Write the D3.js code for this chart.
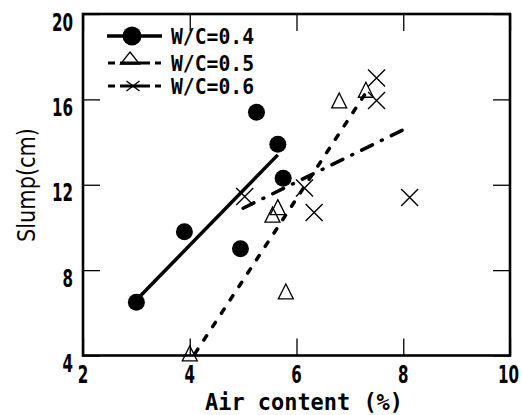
<!DOCTYPE html>
<html>
<head>
<meta charset="utf-8">
<script src="https://cdn.jsdelivr.net/npm/d3@7"></script>
<style>
  body { margin: 0; background: #fff; }
  text { font-family: "DejaVu Sans Condensed", "Liberation Sans Narrow", "DejaVu Sans", sans-serif; fill: #000; }
  .mono { font-family: "DejaVu Sans Mono", "Liberation Mono", monospace; }
</style>
</head>
<body>
<svg id="chart" width="522" height="415"></svg>
<script>
// data
const xTicks = [2, 4, 6, 8, 10];
const yTicks = [4, 8, 12, 16, 20];

const wc04X = [3.0, 3.9, 4.95, 5.25, 5.65, 5.75];
const wc04Y = [6.5, 9.8, 9.0, 15.4, 13.9, 12.3];
const wc05X = [4.0, 5.55, 5.65, 5.8, 6.8, 7.3];
const wc05Y = [4.1, 10.6, 10.95, 7.0, 15.95, 16.45];
const wc06X = [5.03, 6.15, 6.33, 7.5, 7.5, 8.12];
const wc06Y = [11.45, 11.85, 10.7, 17.0, 15.95, 11.4];

// fitted lines (end points)
const fit04 = [[3.0, 6.6], [5.65, 13.4]];
const fit05 = [[4.1, 4.1], [7.35, 16.5]];
const fit06 = [[5.0, 10.9], [8.1, 14.7]];

const seriesNames = ["W/C=0.4", "W/C=0.5", "W/C=0.6"];

const svg = d3.select("#chart");
const x = d3.scaleLinear().domain([2, 10]).range([83, 510]);
const y = d3.scaleLinear().domain([4, 20]).range([355.5, 14]);

// inward ticks on all four sides
const tick = 17;
svg.append("g").attr("transform", `translate(0,${y(4)})`)
  .call(d3.axisBottom(x).tickValues(xTicks).tickSizeInner(-tick).tickSizeOuter(0).tickFormat(""));
svg.append("g").attr("transform", `translate(0,${y(20)})`)
  .call(d3.axisTop(x).tickValues(xTicks).tickSizeInner(-tick).tickSizeOuter(0).tickFormat(""));
svg.append("g").attr("transform", `translate(${x(2)},0)`)
  .call(d3.axisLeft(y).tickValues(yTicks).tickSizeInner(-tick).tickSizeOuter(0).tickFormat(""));
svg.append("g").attr("transform", `translate(${x(10)},0)`)
  .call(d3.axisRight(y).tickValues(yTicks).tickSizeInner(-tick).tickSizeOuter(0).tickFormat(""));
svg.selectAll(".domain").remove();
svg.selectAll(".tick line").attr("stroke", "#000").attr("stroke-width", 1.3);

// frame
svg.append("rect")
  .attr("x", x(2)).attr("y", y(20))
  .attr("width", x(10) - x(2)).attr("height", y(4) - y(20))
  .attr("fill", "none").attr("stroke", "#000").attr("stroke-width", 2.6);

// tick labels
svg.selectAll(".xl").data(xTicks).enter().append("text")
  .attr("x", d => d === 10 ? 519 : x(d)).attr("y", 383)
  .attr("text-anchor", d => d === 10 ? "end" : "middle")
  .attr("font-size", 24).attr("font-weight", "bold")
  .attr("textLength", d => String(d).length * 10.5)
  .attr("lengthAdjust", "spacingAndGlyphs")
  .text(d => d);
svg.selectAll(".yl").data(yTicks).enter().append("text")
  .attr("x", 73).attr("y", d => y(d) + 16.5)
  .attr("text-anchor", "end")
  .attr("font-size", 24).attr("font-weight", "bold")
  .attr("textLength", d => String(d).length * 10.5)
  .attr("lengthAdjust", "spacingAndGlyphs")
  .text(d => d);

// axis titles
svg.append("text").attr("class", "mono")
  .attr("x", 205).attr("y", 410)
  .attr("font-size", 23).attr("font-weight", "bold")
  .attr("textLength", 198).attr("lengthAdjust", "spacingAndGlyphs")
  .text("Air content (%)");
svg.append("text")
  .attr("transform", "translate(35,242) rotate(-90)")
  .attr("font-size", 25)
  .attr("textLength", 114).attr("lengthAdjust", "spacingAndGlyphs")
  .text("Slump(cm)");

// fitted lines
const line = d3.line().x(d => x(d[0])).y(d => y(d[1]));
svg.append("path").attr("d", line(fit04))
  .attr("fill", "none").attr("stroke", "#000").attr("stroke-width", 3.5);
svg.append("path").attr("d", line(fit05))
  .attr("fill", "none").attr("stroke", "#000").attr("stroke-width", 3.5)
  .attr("stroke-linecap", "round").attr("stroke-dasharray", "5,11");
svg.append("path").attr("d", line(fit06))
  .attr("fill", "none").attr("stroke", "#000").attr("stroke-width", 3.5)
  .attr("stroke-linecap", "round").attr("stroke-dasharray", "12,10,1,10");

// markers
function triangle(g, cx, cy, w, h) {
  g.append("path")
    .attr("d", `M${cx},${cy - h / 2}L${cx + w / 2},${cy + h / 2}L${cx - w / 2},${cy + h / 2}Z`)
    .attr("fill", "#fff").attr("fill-opacity", 0)
    .attr("stroke", "#000").attr("stroke-width", 1.3);
}
function cross(g, cx, cy, hw, hh) {
  g.append("path")
    .attr("d", `M${cx - hw},${cy - hh}L${cx + hw},${cy + hh}M${cx - hw},${cy + hh}L${cx + hw},${cy - hh}`)
    .attr("stroke", "#000").attr("stroke-width", 1.4).attr("fill", "none");
}

const pts = svg.append("g");
d3.range(wc05X.length).forEach(i => triangle(pts, x(wc05X[i]), y(wc05Y[i]), 15, 15));
d3.range(wc06X.length).forEach(i => cross(pts, x(wc06X[i]), y(wc06Y[i]), 8.5, 8.5));
pts.selectAll("circle").data(d3.range(wc04X.length)).enter().append("circle")
  .attr("cx", i => x(wc04X[i])).attr("cy", i => y(wc04Y[i]))
  .attr("r", 8.5).attr("fill", "#000");

// legend
const lg = svg.append("g");
const legY = [36, 63, 86];
lg.append("line").attr("x1", 107).attr("x2", 162).attr("y1", legY[0]).attr("y2", legY[0])
  .attr("stroke", "#000").attr("stroke-width", 3.5);
lg.append("circle").attr("cx", 132).attr("cy", legY[0]).attr("r", 9.5).attr("fill", "#000");

lg.append("line").attr("x1", 108).attr("x2", 161).attr("y1", legY[1]).attr("y2", legY[1])
  .attr("stroke", "#000").attr("stroke-width", 3).attr("stroke-dasharray", "7,5,30,5,6");
triangle(lg, 130, legY[1] - 5, 19, 12);

lg.append("line").attr("x1", 108).attr("x2", 161).attr("y1", legY[2]).attr("y2", legY[2])
  .attr("stroke", "#000").attr("stroke-width", 3).attr("stroke-dasharray", "7,5,30,5,6");
cross(lg, 133, legY[2], 6.5, 5);

lg.selectAll(".lt").data(seriesNames).enter().append("text").attr("class", "mono")
  .attr("x", 171).attr("y", (d, i) => legY[i] + 8)
  .attr("font-size", 22).attr("font-weight", "bold")
  .attr("textLength", 83).attr("lengthAdjust", "spacingAndGlyphs")
  .text(d => d);
</script>
</body>
</html>
